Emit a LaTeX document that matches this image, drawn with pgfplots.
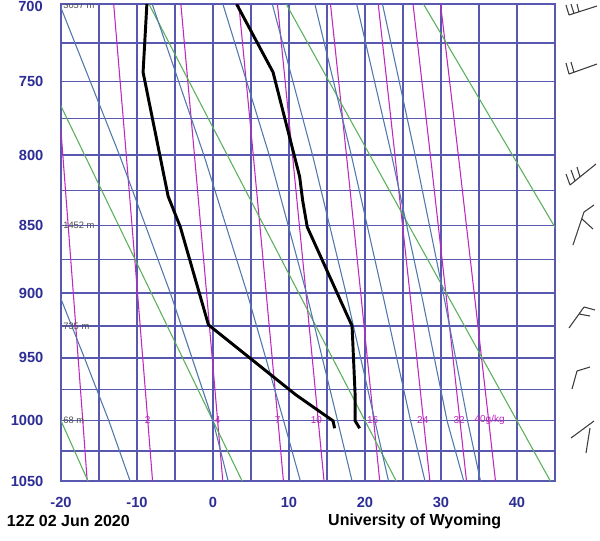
\documentclass[border=0pt]{standalone}
\usepackage{fontspec}
\setmainfont{Liberation Sans}
\usepackage{pgfplots}
\pgfplotsset{compat=1.18}
\definecolor{gridblue}{RGB}{88,88,176}
\definecolor{tickblue}{RGB}{45,45,150}
\definecolor{dryc}{RGB}{90,175,90}
\definecolor{moistc}{RGB}{80,120,172}
\definecolor{mixc}{RGB}{190,40,190}
\definecolor{barbc}{RGB}{60,60,60}

\begin{document}
\begin{tikzpicture}
\path[use as bounding box] (-45.75pt,-44.25pt) rectangle (404.25pt,360.75pt);

\begin{axis}[
  at={(0pt,0pt)}, anchor=south west,
  width=370.5pt, height=357.75pt, scale only axis,
  xmin=-20, xmax=45, ymin=700, ymax=1050,
  y dir=reverse,
  y coord trafo/.code={\pgfmathparse{exp(0.286*ln(#1))}},
  y coord inv trafo/.code={\pgfmathparse{exp(ln(#1)/0.286)}},
  xtick={-20,-10,0,10,20,30,40},
  xticklabels={-20,-10,0,10,20,30,40},
  minor xtick={-15,-5,5,15,25,35,45},
  ytick={700,750,800,850,900,950,1000,1050},
  yticklabels={\raisebox{-5.5pt}[0pt][0pt]{\llap{700}},750,800,850,900,950,1000,1050},
  minor ytick={725,775,825,875,925,975,1025},
  grid=both,
  major grid style={gridblue, line width=1pt},
  minor grid style={gridblue, line width=1pt},
  axis line style={gridblue, line width=1pt},
  major tick length=0pt, minor tick length=0pt,
  tick label style={font=\bfseries\fontsize{11}{11}\selectfont, text=tickblue},
  xticklabel style={anchor=center, yshift=-16pt},
  yticklabel style={anchor=east, inner sep=0pt, xshift=-13pt},
  no markers,
]
% mixing ratio lines (g/kg)
\addplot[mixc, line width=0.8pt] coordinates {(-16.55,1050) (-17.13,1000) (-18.38,900) (-19.76,800) (-20.05,780)};
\addplot[mixc, line width=0.8pt] coordinates {(-7.95,1050) (-8.58,1000) (-9.93,900) (-11.41,800) (-13.07,700)};
\addplot[mixc, line width=0.8pt] coordinates {(1.29,1050) (0.61,1000) (-0.84,900) (-2.44,800) (-4.23,700)};
\addplot[mixc, line width=0.8pt] coordinates {(9.27,1050) (8.55,1000) (7.00,900) (5.30,800) (3.39,700)};
\addplot[mixc, line width=0.8pt] coordinates {(14.61,1050) (13.85,1000) (12.24,900) (10.46,800) (8.48,700)};
\addplot[mixc, line width=0.8pt] coordinates {(21.94,1050) (21.14,1000) (19.44,900) (17.56,800) (15.46,700)};
\addplot[mixc, line width=0.8pt] coordinates {(28.54,1050) (27.70,1000) (25.91,900) (23.94,800) (21.74,700)};
\addplot[mixc, line width=0.8pt] coordinates {(33.36,1050) (32.49,1000) (30.64,900) (28.60,800) (26.32,700)};
\addplot[mixc, line width=0.8pt] coordinates {(37.17,1050) (36.28,1000) (34.37,900) (32.28,800) (29.94,700)};
% dry adiabats
\addplot[dryc, line width=0.8pt] coordinates {(-16.44,1050) (-44.55,700)};
\addplot[dryc, line width=0.8pt] coordinates {(3.84,1050) (-26.49,700)};
\addplot[dryc, line width=0.8pt] coordinates {(24.12,1050) (-8.43,700)};
\addplot[dryc, line width=0.8pt] coordinates {(44.40,1050) (9.63,700)};
\addplot[dryc, line width=0.8pt] coordinates {(64.68,1050) (27.69,700)};
% moist adiabats
\addplot[moistc, line width=0.8pt] coordinates {(-10.9,1050) (-13.7,1000) (-16.9,950) (-20.3,900)};
\addplot[moistc, line width=0.8pt] coordinates {(2.0,1050) (0.0,1000) (-5.6,900) (-12.3,800) (-20.2,700)};
\addplot[moistc, line width=0.8pt] coordinates {(11.5,1050) (9.3,1000) (4.5,900) (-1.2,800) (-8.0,700)};
\addplot[moistc, line width=0.8pt] coordinates {(18.3,1050) (16.4,1000) (12.3,900) (7.4,800) (1.3,700)};
\addplot[moistc, line width=0.8pt] coordinates {(23.1,1050) (21.3,1000) (17.5,900) (13.1,800) (7.8,700)};
\addplot[moistc, line width=0.8pt] coordinates {(27.9,1050) (26.0,1000) (22.3,900) (18.2,800) (13.4,700)};
\addplot[moistc, line width=0.8pt] coordinates {(33.0,1050) (30.8,1000) (27.4,900) (23.5,800) (18.9,700)};
\addplot[moistc, line width=0.8pt] coordinates {(35.2,1050) (33.5,1000) (30.3,900) (26.6,800) (22.3,700)};
% sounding: temperature and dew point
\addplot[black, line width=2.2pt] coordinates {(19.3,1006) (18.7,1000) (18.7,979) (18.3,925) (12.4,851) (11.8,832) (11.4,815) (7.9,744) (3.1,700)};
\addplot[black, line width=2.2pt] coordinates {(16.0,1006) (15.8,1000) (10.9,979) (-0.6,924) (-4.3,851) (-5.9,829) (-9.2,744) (-8.7,700)};
% heights
\node[anchor=west, font=\fontsize{7}{7}\selectfont, text=black!70, inner sep=1pt] at (axis cs:-19.9,701) {3057 m};
\node[anchor=west, font=\fontsize{7}{7}\selectfont, text=black!70, inner sep=1pt] at (axis cs:-19.9,850) {1452 m};
\node[anchor=west, font=\fontsize{7}{7}\selectfont, text=black!70, inner sep=1pt] at (axis cs:-19.9,925) {735 m};
\node[anchor=west, font=\fontsize{7}{7}\selectfont, text=black!70, inner sep=1pt] at (axis cs:-19.9,1000) {68 m};
% mixing ratio labels
\node[font=\fontsize{7.5}{7.5}\selectfont, text=mixc] at (axis cs:-8.6,1000) {2};
\node[font=\fontsize{7.5}{7.5}\selectfont, text=mixc] at (axis cs:0.6,1000) {4};
\node[font=\fontsize{7.5}{7.5}\selectfont, text=mixc] at (axis cs:8.5,1000) {7};
\node[font=\fontsize{7.5}{7.5}\selectfont, text=mixc] at (axis cs:13.6,1000) {10};
\node[font=\fontsize{7.5}{7.5}\selectfont, text=mixc] at (axis cs:21.0,1000) {16};
\node[font=\fontsize{7.5}{7.5}\selectfont, text=mixc] at (axis cs:27.6,1000) {24};
\node[font=\fontsize{7.5}{7.5}\selectfont, text=mixc] at (axis cs:32.4,1000) {32};
\node[font=\fontsize{7.5}{7.5}\selectfont, text=mixc] at (axis cs:36.4,1000) {40g/kg};
\end{axis}

% wind barbs (column right of the diagram, pixel units)
\begin{axis}[
  at={(370.5pt,0pt)}, anchor=south west,
  width=33.75pt, height=357.75pt, scale only axis,
  xmin=555, xmax=600, ymin=4, ymax=481, y dir=reverse,
  axis lines=none, clip=false, no markers,
  unbounded coords=jump,
]
\addplot[barbc, solid, line width=0.8pt] coordinates {(569,15) (597,6) (nan,nan) (569,15) (566,5) (nan,nan) (574,13.5) (571,4) (nan,nan) (579,12) (577,4)};
\addplot[barbc, solid, line width=0.8pt] coordinates {(569,74) (597,64) (nan,nan) (569,74) (566,63) (nan,nan) (574,72.5) (571,62)};
\addplot[barbc, solid, line width=0.8pt] coordinates {(570,185) (596,164) (nan,nan) (570,185) (566,174) (nan,nan) (575,181) (571,170) (nan,nan) (580,177) (577,167)};
\addplot[barbc, solid, line width=0.8pt] coordinates {(573,245) (584,212) (nan,nan) (584,212) (594,205) (nan,nan) (582,219) (593,229)};
\addplot[barbc, solid, line width=0.8pt] coordinates {(569,328) (584,307) (nan,nan) (584,307) (595,310) (nan,nan) (579,314) (590,316)};
\addplot[barbc, solid, line width=0.8pt] coordinates {(572,389) (577,371) (nan,nan) (577,371) (590,367)};
\addplot[barbc, solid, line width=0.8pt] coordinates {(571,438) (594,421) (nan,nan) (590,428) (586,453)};
\end{axis}

\node[anchor=west, font=\bfseries\fontsize{12}{12}\selectfont, inner sep=0pt] at (-40.7pt,-30pt) {12Z 02 Jun 2020};
\node[anchor=west, font=\bfseries\fontsize{12}{12}\selectfont, inner sep=0pt] at (200.2pt,-30pt) {University of Wyoming};
\end{tikzpicture}
\end{document}
